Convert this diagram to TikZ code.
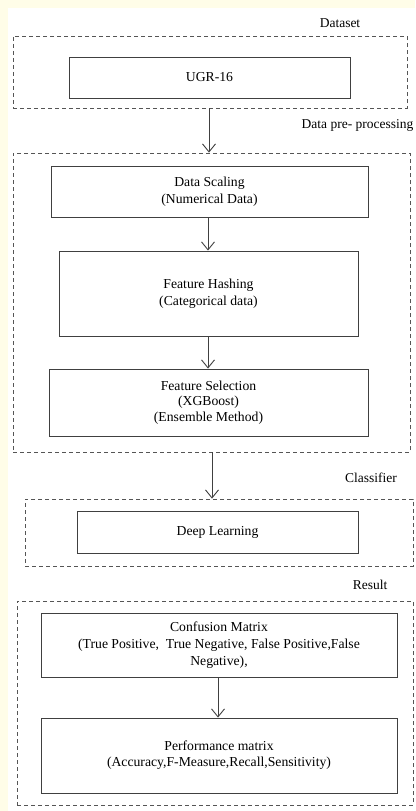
\documentclass[tikz,border=0pt]{standalone}
\usepackage{fontspec}
\setmainfont{Liberation Serif}
\usetikzlibrary{arrows.meta}
\definecolor{cream}{HTML}{FFFDE8}
\definecolor{linegray}{HTML}{404040}
\definecolor{dashgray}{HTML}{555555}
\tikzset{
  procbox/.style={draw=linegray, line width=0.9pt, fill=white, align=center, inner sep=2pt,
    font=\fontsize{13.7}{16.8}\selectfont},
  groupbox/.style={draw=dashgray, line width=0.8pt, dash pattern=on 4pt off 3pt, inner sep=0pt},
  grouplabel/.style={font=\fontsize{13.5}{15}\selectfont, inner sep=0pt},
  flow/.style={draw=linegray, line width=0.9pt, -{Straight Barb[length=8pt,width=13pt,line width=0.9pt]}}
}
\begin{document}
\begin{tikzpicture}[x=1pt,y=-1pt]
\useasboundingbox (0,0) rectangle (415,811);
\fill[cream] (0,0) rectangle (415,811);
\fill[white] (8,8) rectangle (415,811);

% group boxes
\node[groupbox, minimum width=394pt, minimum height=72pt] (g1) at (210,72) {};
\node[groupbox, minimum width=397pt, minimum height=299pt] (g2) at (211.5,302.5) {};
\node[groupbox, minimum width=388pt, minimum height=67pt] (g3) at (219,532.5) {};
\node[groupbox, minimum width=396pt, minimum height=204pt] (g4) at (215,703) {};

% group labels
\node[grouplabel] (l1) at (340,23) {Dataset};
\node[grouplabel] (l2) at (357.5,125) {Data pre- processing};
\node[grouplabel] (l3) at (371,478) {Classifier};
\node[grouplabel] (l4) at (370,585) {Result};

% process boxes
\node[procbox, minimum width=281pt, minimum height=41pt] (ugr) at (209.5,77.5) {UGR-16};
\node[procbox, minimum width=317pt, minimum height=51pt] (ds) at (209.5,191.5) {Data Scaling\\(Numerical Data)};
\node[procbox, minimum width=299pt, minimum height=85pt] (fh) at (208.5,293.5) {Feature Hashing\\(Categorical data)};
\node[procbox, minimum width=319pt, minimum height=67pt, font=\fontsize{13.7}{15.5}\selectfont] (fs) at (208.5,402.5) {Feature Selection\\(XGBoost)\\(Ensemble Method)};
\node[procbox, minimum width=281pt, minimum height=42pt] (dl) at (217.5,532) {Deep Learning};
\node[procbox, minimum width=356pt, minimum height=64pt] (cm) at (219,645) {Confusion Matrix\\(True Positive,\ \ True Negative, False Positive,False\\Negative),};
\node[procbox, minimum width=356pt, minimum height=75pt, font=\fontsize{13.7}{16}\selectfont] (pm) at (219,755.5) {Performance matrix\\(Accuracy,F-Measure,Recall,Sensitivity)};

% connectors
\coordinate (a1) at (209,0);
\draw[flow] (a1 |- g1.south) -- (a1 |- g2.north);
\coordinate (a2) at (208,0);
\draw[flow] (a2 |- ds.south) -- (a2 |- fh.north);
\draw[flow] (a2 |- fh.south) -- (a2 |- fs.north);
\coordinate (a4) at (212,0);
\draw[flow] (a4 |- g2.south) -- (a4 |- g3.north);
\coordinate (a5) at (218,0);
\draw[flow] (a5 |- cm.south) -- (a5 |- pm.north);
\end{tikzpicture}
\end{document}
